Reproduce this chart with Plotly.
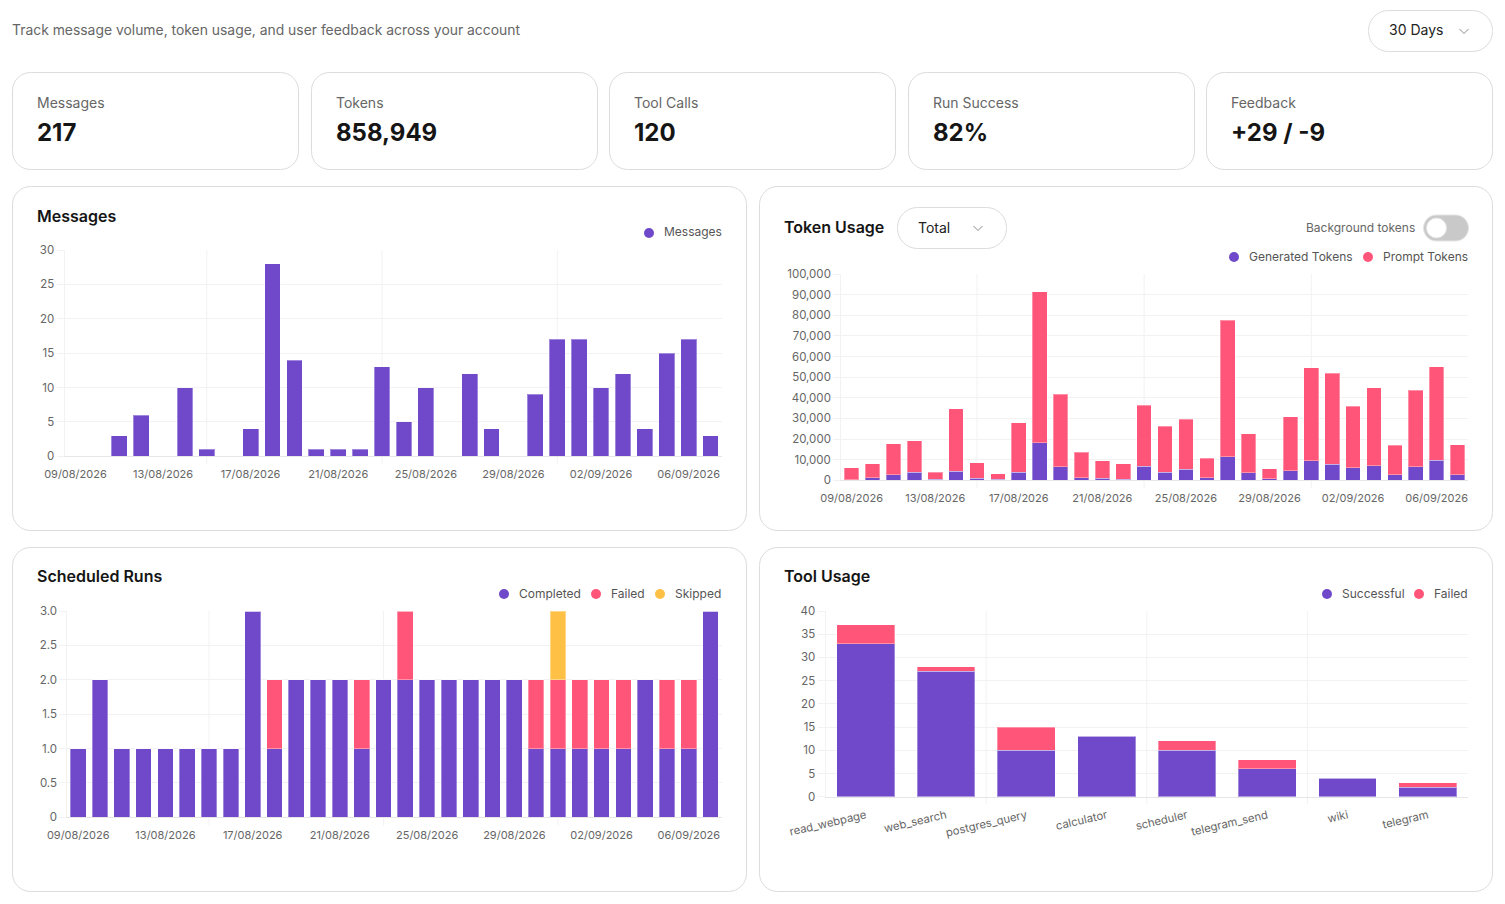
import plotly.graph_objects as go

W = 1505
H = 904

PURPLE = "#6f49c9"
PINK = "#ff5579"
YELLOW = "#ffc145"
GRID = "#f2f2f2"
BORDER = "#dcdcdc"
MUTED = "#666666"
DARK = "#151515"
FONT = "Inter"

# --- data ---
dates = ["09/08/2026", "10/08/2026", "11/08/2026", "12/08/2026", "13/08/2026", "14/08/2026",
         "15/08/2026", "16/08/2026", "17/08/2026", "18/08/2026", "19/08/2026", "20/08/2026",
         "21/08/2026", "22/08/2026", "23/08/2026", "24/08/2026", "25/08/2026", "26/08/2026",
         "27/08/2026", "28/08/2026", "29/08/2026", "30/08/2026", "31/08/2026", "01/09/2026",
         "02/09/2026", "03/09/2026", "04/09/2026", "05/09/2026", "06/09/2026", "07/09/2026"]
date_ticks = ["09/08/2026", "13/08/2026", "17/08/2026", "21/08/2026",
              "25/08/2026", "29/08/2026", "02/09/2026", "06/09/2026"]
date_grid = ["15/08/2026", "23/08/2026", "31/08/2026"]

messages = [0, 0, 3, 6, 0, 10, 1, 0, 4, 28, 14, 1, 1, 1, 13,
            5, 10, 0, 12, 4, 0, 9, 17, 17, 10, 12, 4, 15, 17, 3]

generated_tokens = [300, 1200, 2700, 4000, 400, 4300, 1100, 500, 4000, 18100, 6600, 1300, 1000, 600, 6900,
                    4000, 5300, 1300, 11300, 3600, 800, 4700, 9500, 7900, 6000, 7100, 2700, 6600, 9700, 2600]
prompt_tokens = [5800, 6900, 15100, 15200, 3600, 30400, 7400, 2700, 24000, 73200, 35200, 12300, 8500, 7500, 29600,
                 22200, 24300, 9400, 66400, 19000, 4800, 26200, 45100, 44100, 29900, 37800, 14400, 37000, 45400, 14700]

runs_completed = [1, 2, 1, 1, 1, 1, 1, 1, 3, 1, 2, 2, 2, 1, 2,
                  2, 2, 2, 2, 2, 2, 1, 1, 1, 1, 1, 2, 1, 1, 3]
runs_failed = [0, 0, 0, 0, 0, 0, 0, 0, 0, 1, 0, 0, 0, 1, 0,
               1, 0, 0, 0, 0, 0, 1, 1, 1, 1, 1, 0, 1, 1, 0]
runs_skipped = [0, 0, 0, 0, 0, 0, 0, 0, 0, 0, 0, 0, 0, 0, 0,
                0, 0, 0, 0, 0, 0, 0, 1, 0, 0, 0, 0, 0, 0, 0]

tools = ["read_webpage", "web_search", "postgres_query", "calculator",
         "scheduler", "telegram_send", "wiki", "telegram"]
tool_success = [33, 27, 10, 13, 10, 6, 4, 2]
tool_failed = [4, 1, 5, 0, 2, 2, 0, 1]

stat_labels = ["Messages", "Tokens", "Tool Calls", "Run Success", "Feedback"]
stat_values = ["217", "858,949", "120", "82%", "+29 / -9"]

messages_ticks = [0, 5, 10, 15, 20, 25, 30]
token_ticks = [0, 10000, 20000, 30000, 40000, 50000, 60000, 70000, 80000, 90000, 100000]
runs_ticks = [0, 0.5, 1, 1.5, 2, 2.5, 3]
runs_ticktext = ["0", "0.5", "1.0", "1.5", "2.0", "2.5", "3.0"]
tool_ticks = [0, 5, 10, 15, 20, 25, 30, 35, 40]


# pixel position on the page -> paper coords
def px(x):
    return x / W


def py(y):
    return 1 - y / H


shapes = []
annotations = []


def text(x, y, s, size=12, color=MUTED, weight=400, anchor="left"):
    # annotations land about 1px right and low of the asked spot
    annotations.append(dict(x=px(x - 1), y=py(y - 1), xref="paper", yref="paper", text=s, showarrow=False,
                            xanchor=anchor, yanchor="middle", borderpad=0,
                            font=dict(family=FONT, size=size, color=color, weight=weight)))


def round_box(x0, y0, x1, y1, r, fill="white", line=BORDER):
    k = r * 0.45
    p = [f"M{px(x0 + r)},{py(y0)}", f"L{px(x1 - r)},{py(y0)}",
         f"C{px(x1 - k)},{py(y0)} {px(x1)},{py(y0 + k)} {px(x1)},{py(y0 + r)}",
         f"L{px(x1)},{py(y1 - r)}",
         f"C{px(x1)},{py(y1 - k)} {px(x1 - k)},{py(y1)} {px(x1 - r)},{py(y1)}",
         f"L{px(x0 + r)},{py(y1)}",
         f"C{px(x0 + k)},{py(y1)} {px(x0)},{py(y1 - k)} {px(x0)},{py(y1 - r)}",
         f"L{px(x0)},{py(y0 + r)}",
         f"C{px(x0)},{py(y0 + k)} {px(x0 + k)},{py(y0)} {px(x0 + r)},{py(y0)}", "Z"]
    shapes.append(dict(type="path", path=" ".join(p), xref="paper", yref="paper", layer="below",
                       fillcolor=fill, line=dict(color=line, width=1)))


def dot(x, y, r, color, line=None):
    shapes.append(dict(type="circle", xref="paper", yref="paper", layer="below",
                       x0=px(x - r), x1=px(x + r), y0=py(y + r), y1=py(y - r), fillcolor=color,
                       line=dict(color=line or color, width=1 if line else 0)))


def chevron(x, y):
    shapes.append(dict(type="path", xref="paper", yref="paper", layer="below",
                       path=f"M{px(x - 4.5)},{py(y - 2)} L{px(x)},{py(y + 2.5)} L{px(x + 4.5)},{py(y - 2)}",
                       line=dict(color="#8a8a8a", width=1)))


def legend_items(y, items):
    # items are dot x, text x, label, colour
    for dx, tx, label, color in items:
        dot(dx, y, 5, color)
        text(tx, y, label, size=12, color="#555555")


def vgrid(xaxis, positions, bottom_frac):
    for v in positions:
        shapes.append(dict(type="line", xref=xaxis, yref=xaxis.replace("x", "y") + " domain", layer="below",
                           x0=v, x1=v, y0=-bottom_frac, y1=1, line=dict(color=GRID, width=1)))


# --- page furniture ---
text(12, 31, "Track message volume, token usage, and user feedback across your account", size=13.9, color="#666666")
round_box(1368.5, 10.5, 1492.5, 51.5, 20)
text(1389, 31, "30 Days", size=14, color="#222222")
chevron(1464, 31)

card_left = [12.5, 311.5, 609.5, 908.5, 1206.5]
for left, label, value in zip(card_left, stat_labels, stat_values):
    round_box(left, 72.5, left + 286, 169.5, 18)
    text(left + 24.5, 103, label, size=14, color="#666666")
    text(left + 24.5, 133, value, size=24, color=DARK, weight=700)

round_box(12.5, 186.5, 746.5, 530.5, 18)
round_box(759.5, 186.5, 1492.5, 530.5, 18)
round_box(12.5, 547.5, 746.5, 891.5, 18)
round_box(759.5, 547.5, 1492.5, 891.5, 18)

text(37, 217, "Messages", size=16, color=DARK, weight=600)
text(784, 228, "Token Usage", size=16, color=DARK, weight=600)
text(37, 577, "Scheduled Runs", size=16, color=DARK, weight=600)
text(784, 577, "Tool Usage", size=16, color=DARK, weight=600)

round_box(897.5, 207.5, 1006.5, 248.5, 20)
text(918, 228, "Total", size=14, color="#222222")
chevron(978, 228)

text(1417, 228, "Background tokens", size=12, color="#666666", anchor="right")
round_box(1423.5, 215, 1468.5, 241, 13, fill="#c9c9c9", line="#e4e4e4")
dot(1436.5, 228, 10, "white", line="#e6e6e6")

legend_items(233, [(649, 664, "Messages", PURPLE)])
legend_items(257, [(1234, 1249, "Generated Tokens", PURPLE), (1368, 1383, "Prompt Tokens", PINK)])
legend_items(594, [(504, 519, "Completed", PURPLE), (596, 611, "Failed", PINK), (660, 675, "Skipped", YELLOW)])
legend_items(594, [(1327, 1342, "Successful", PURPLE), (1419, 1434, "Failed", PINK)])

# --- charts ---
fig = go.Figure()


def bars(x, y, color, name, xa, ya, width):
    fig.add_trace(go.Bar(x=x, y=y, name=name, xaxis=xa, yaxis=ya, width=width, showlegend=False,
                         marker=dict(color=color, line=dict(color="rgba(255,255,255,0.35)", width=1))))


bars(dates, messages, PURPLE, "Messages", "x", "y", 0.72)

bars(dates, generated_tokens, PURPLE, "Generated Tokens", "x2", "y2", 0.7)
bars(dates, prompt_tokens, PINK, "Prompt Tokens", "x2", "y2", 0.7)

bars(dates, runs_completed, PURPLE, "Completed", "x3", "y3", 0.72)
bars(dates, runs_failed, PINK, "Failed", "x3", "y3", 0.72)
bars(dates, runs_skipped, YELLOW, "Skipped", "x3", "y3", 0.72)

bars(tools, tool_success, PURPLE, "Successful", "x4", "y4", 0.72)
bars(tools, tool_failed, PINK, "Failed", "x4", "y4", 0.72)


# automargin off, the default template would shrink the whole page around the tick labels
def x_axis(left, right, anchor, ticks, count, size=11, **kw):
    return dict(domain=[px(left), px(right)], anchor=anchor, type="category", tickmode="array", tickvals=ticks,
                range=[-0.5, count - 0.5], showgrid=False, zeroline=False, showline=True, linecolor="#e6e6e6",
                ticks="outside", ticklen=7, tickcolor="rgba(0,0,0,0)", automargin=False,
                tickfont=dict(family=FONT, size=size, color=MUTED), **kw)


def y_axis(top, bottom, anchor, ticks, top_value, **kw):
    return dict(domain=[py(bottom), py(top)], anchor=anchor, range=[0, top_value], tickmode="array", tickvals=ticks,
                showgrid=True, gridcolor=GRID, gridwidth=1, zeroline=False, showline=True, linecolor=GRID,
                ticks="outside", ticklen=7, tickcolor=GRID, automargin=False,
                tickfont=dict(family=FONT, size=11.5, color=MUTED), **kw)


vgrid("x", date_grid, 0.04)
vgrid("x2", date_grid, 0.04)
vgrid("x3", date_grid, 0.04)
vgrid("x4", [1.5, 3.5, 5.5], 0.04)

fig.update_layout(
    width=W, height=H, autosize=False, margin=dict(l=0, r=0, t=0, b=0),
    paper_bgcolor="white", plot_bgcolor="rgba(0,0,0,0)", barmode="stack", hovermode=False,
    font=dict(family=FONT),
    xaxis=x_axis(64.5, 721.5, "y", date_ticks, 30, tickangle=0),
    yaxis=y_axis(250, 456.3, "x", messages_ticks, 30),
    xaxis2=x_axis(841.2, 1468, "y2", date_ticks, 30, tickangle=0),
    yaxis2=y_axis(274, 480.3, "x2", token_ticks, 100000, tickformat=","),
    xaxis3=x_axis(67.3, 721.5, "y3", date_ticks, 30, tickangle=0),
    yaxis3=y_axis(611, 817.3, "x3", runs_ticks, 3, ticktext=runs_ticktext),
    xaxis4=x_axis(825.6, 1468, "y4", tools, 8, size=11.3, tickangle=-13),
    yaxis4=y_axis(611, 796.7, "x4", tool_ticks, 40),
    shapes=shapes,
    annotations=annotations,
)

# browser default body margin would push the page 8px off
fig.write_html("out.html", config=dict(displayModeBar=False),
               post_script="document.body.style.margin='0';document.body.style.overflow='hidden';")
